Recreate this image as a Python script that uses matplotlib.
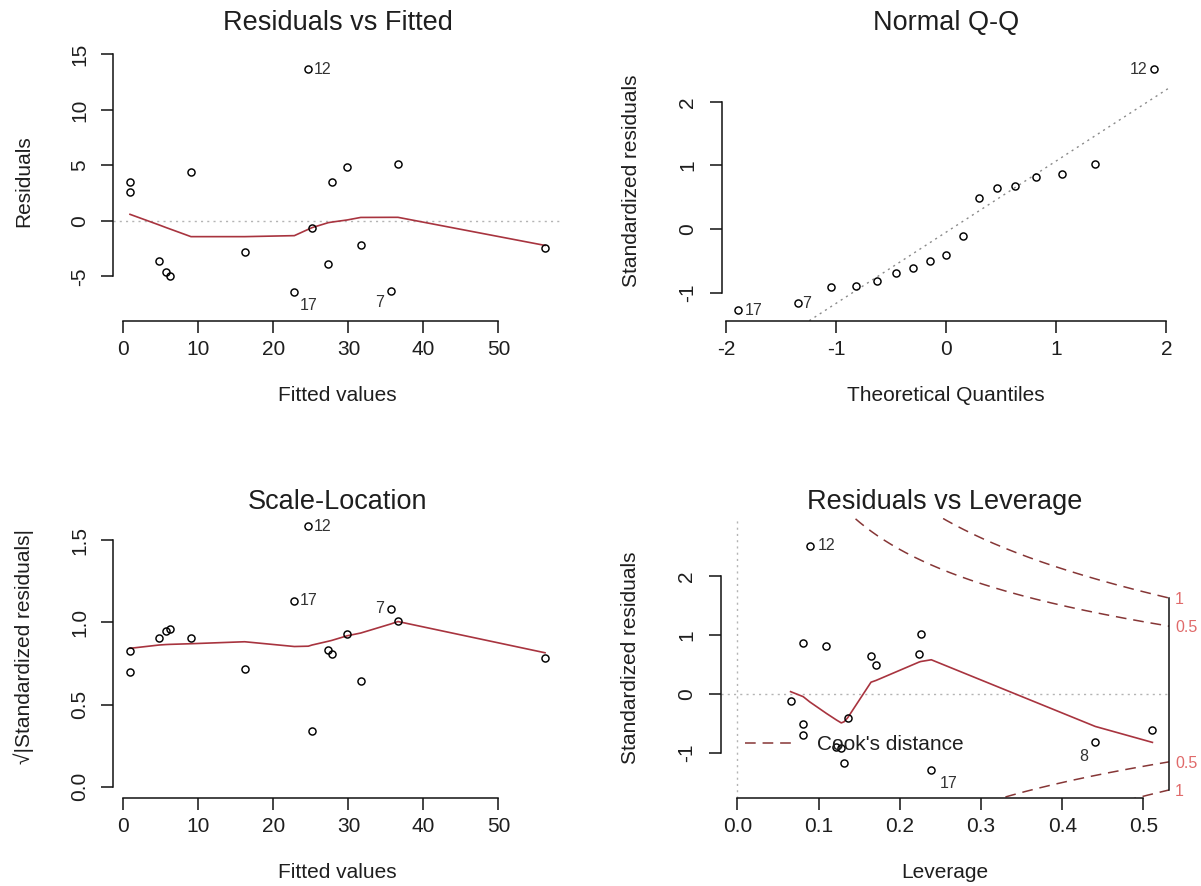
import numpy as np
import matplotlib
matplotlib.use("Agg")
import matplotlib.pyplot as plt
from matplotlib.lines import Line2D

plt.rcParams['font.family'] = ['Liberation Sans', 'DejaVu Sans']
plt.rcParams['axes.unicode_minus'] = False

# ---- regression diagnostics, one entry per observation (ordered by fitted value)
obs_no = [1, 2, 8, 3, 4, 5, 6, 17, 12, 9, 10, 11, 13, 14, 7, 15, 16]
fitted = [0.87, 0.87, 4.73, 5.67, 6.16, 9.0, 16.16, 22.78, 24.64, 25.13,
          27.31, 27.76, 29.8, 31.63, 35.62, 36.6, 56.2]
residuals = [3.49, 2.58, -3.60, -4.62, -4.95, 4.44, -2.79, -6.43, 13.69, -0.66,
             -3.85, 3.49, 4.86, -2.13, -6.28, 5.10, -2.40]
std_resid = [0.68, 0.49, -0.82, -0.895, -0.92, 0.82, -0.51, -1.28, 2.51, -0.115,
             -0.69, 0.65, 0.863, -0.415, -1.17, 1.022, -0.615]
leverage = [0.2236, 0.1708, 0.4407, 0.122, 0.128, 0.1098, 0.0811, 0.2388, 0.0893,
            0.0656, 0.0811, 0.1646, 0.0811, 0.136, 0.1315, 0.2257, 0.511]

# theoretical normal quantiles for 17 points
qq_theoretical = [-1.89, -1.35, -1.05, -0.82, -0.63, -0.46, -0.30, -0.15, 0.0,
                  0.15, 0.30, 0.46, 0.63, 0.82, 1.05, 1.35, 1.89]
qq_line_slope = 1.12
qq_line_intercept = -0.05

# smoothed trend lines
smooth_fit_x = [0.87, 4.73, 5.67, 6.16, 9.0, 16.16, 22.78, 24.64, 25.13, 27.31,
                27.76, 29.8, 31.63, 35.62, 36.6, 56.2]
smooth_resid_y = [0.6, -0.35, -0.59, -0.71, -1.41, -1.41, -1.32, -0.75, -0.60, -0.15,
                  -0.10, 0.09, 0.32, 0.33, 0.33, -2.2]
smooth_scale_y = [0.842, 0.862, 0.865, 0.866, 0.870, 0.882, 0.853, 0.855, 0.862, 0.885,
                  0.89, 0.918, 0.935, 0.99, 1.005, 0.815]
smooth_lev_x = [0.0656, 0.0811, 0.0893, 0.1098, 0.122, 0.128, 0.1315, 0.136, 0.1646,
                0.1708, 0.2236, 0.2257, 0.2388, 0.4407, 0.511]
smooth_lev_y = [0.04, -0.045, -0.135, -0.33, -0.44, -0.49, -0.47, -0.40, 0.20,
                0.23, 0.54, 0.55, 0.58, -0.55, -0.82]

cook_levels = [0.5, 1.0]
n_params = 3

# ---- appearance
W, H = 1201, 886
TXT = '#1e1e1e'
RED_LINE = '#a8343f'
RED_DASH = '#863636'
RED_TEXT = '#e06a6a'
GREY = '#b4b4b4'
FS = 15
FS_TITLE = 19.5
FS_ID = 11.5
PX = 72 / 100  # points per pixel

fig = plt.figure(figsize=(W / 100, H / 100), dpi=100)
fig.patch.set_facecolor('white')


def add_panel(l, t, r, b):
    ax = fig.add_axes([l / W, 1 - b / H, (r - l) / W, (b - t) / H])
    ax.set_facecolor('white')
    return ax, (r - l), (b - t)


def r_pad(lo, hi):
    d = 0.04 * (hi - lo)
    return lo - d, hi + d


def extend(lo, hi, f=0.08):
    d = (hi - lo) * f
    return lo - d, hi + d


def style(ax, w, h, xt, yt, title, xlabel, ylabel, title_off, xtl=None, ytl=None):
    for s in ('top', 'right'):
        ax.spines[s].set_visible(False)
    ax.spines['left'].set_bounds(yt[0], yt[-1])
    ax.spines['bottom'].set_bounds(xt[0], xt[-1])
    for s in ('left', 'bottom'):
        ax.spines[s].set_linewidth(1.1)
        ax.spines[s].set_color('#111111')
    ax.set_xticks(xt)
    ax.set_yticks(yt)
    if xtl is not None:
        ax.set_xticklabels(xtl)
    if ytl is not None:
        ax.set_yticklabels(ytl)
    ax.tick_params(axis='both', direction='out', length=12 * PX, width=1.1,
                   color='#111111', labelsize=FS, labelcolor=TXT)
    ax.tick_params(axis='x', pad=7.5 * PX)
    ax.tick_params(axis='y', pad=12.5 * PX)
    for lab in ax.get_yticklabels():
        lab.set_rotation(90)
        lab.set_va('center')
    ax.set_title(title, fontsize=FS_TITLE, color=TXT, pad=0,
                 y=1 + title_off / h, va='center')
    ax.set_xlabel(xlabel, fontsize=FS, color=TXT)
    ax.xaxis.set_label_coords(0.5, -75 / h)
    ax.xaxis.label.set_va('center')
    ax.set_ylabel(ylabel, fontsize=FS, color=TXT)
    ax.yaxis.set_label_coords(-90 / w, 0.5)
    ax.yaxis.label.set_va('center')


def points(ax, x, y):
    ax.plot(x, y, linestyle='none', marker='o', ms=5.1, mfc='none',
            mec='black', mew=1.05, zorder=3)


def tag(ax, x, y, text, dx, dy):
    ax.annotate(text, (x, y), xytext=(dx * PX, dy * PX), textcoords='offset points',
                ha='center', va='center', fontsize=FS_ID, color='#333333',
                annotation_clip=False, zorder=4)


dotted = dict(color=GREY, lw=1.0, dashes=(1.5, 3.0), zorder=1)

idx = {n: i for i, n in enumerate(obs_no)}
sqrt_abs = np.sqrt(np.abs(np.array(std_resid)))

# ---- Residuals vs Fitted
ax1, w1, h1 = add_panel(113.4, 40.8, 561.6, 320.6)
ax1.set_xlim(*r_pad(min(fitted), max(fitted)))
ax1.set_ylim(*r_pad(*extend(min(residuals), max(residuals))))
ax1.axhline(0, **dotted)
ax1.plot(smooth_fit_x, smooth_resid_y, color=RED_LINE, lw=1.2, zorder=2)
points(ax1, fitted, residuals)
for n, dx, dy in [(12, 14, 0), (17, 14, -13), (7, -11, -12)]:
    i = idx[n]
    tag(ax1, fitted[i], residuals[i], str(n), dx, dy)
style(ax1, w1, h1, [0, 10, 20, 30, 40, 50], [-5, 0, 5, 10, 15],
      'Residuals vs Fitted', 'Fitted values', 'Residuals', 18)

# ---- Normal Q-Q
order = np.argsort(std_resid)
qq_y = np.array(std_resid)[order]
ax2, w2, h2 = add_panel(721.5, 41.0, 1170.8, 320.7)
ax2.set_xlim(*r_pad(min(qq_theoretical), max(qq_theoretical)))
lo, hi = min(std_resid), max(std_resid)
ax2.set_ylim(*r_pad(lo, hi + 0.075 * (hi - lo)))
ax2.axline((0, qq_line_intercept), slope=qq_line_slope, color='#8a8a8a', lw=1.0,
           dashes=(1.5, 3.0), zorder=1)
points(ax2, qq_theoretical, qq_y)
rank = {obs_no[j]: k for k, j in enumerate(order)}
for n, dx, dy in [(17, 15, 0), (7, 9, 0), (12, -16, 0)]:
    k = rank[n]
    tag(ax2, qq_theoretical[k], qq_y[k], str(n), dx, dy)
style(ax2, w2, h2, [-2, -1, 0, 1, 2], [-1, 0, 1, 2],
      'Normal Q-Q', 'Theoretical Quantiles', 'Standardized residuals', 18)

# ---- Scale-Location
ax3, w3, h3 = add_panel(113.4, 495.6, 561.6, 797.9)
ax3.set_xlim(*r_pad(min(fitted), max(fitted)))
ax3.set_ylim(*r_pad(0, sqrt_abs.max() * 1.075))
ax3.plot(smooth_fit_x, smooth_scale_y, color=RED_LINE, lw=1.2, zorder=2)
points(ax3, fitted, sqrt_abs)
for n, dx, dy in [(12, 14, 0), (17, 14, 0), (7, -11, 0)]:
    i = idx[n]
    tag(ax3, fitted[i], sqrt_abs[i], str(n), dx, dy)
style(ax3, w3, h3, [0, 10, 20, 30, 40, 50], [0.0, 0.5, 1.0, 1.5],
      'Scale-Location', 'Fitted values', '\u221a|Standardized residuals|', -6,
      ytl=['0.0', '0.5', '1.0', '1.5'])

# ---- Residuals vs Leverage
ax4, w4, h4 = add_panel(720.7, 517.6, 1169.0, 797.8)
xl4 = r_pad(0, max(leverage))
ax4.set_xlim(*xl4)
ax4.set_ylim(*r_pad(*extend(min(std_resid), max(std_resid))))
ax4.axhline(0, **dotted)
ax4.axvline(0, **dotted)
hh = np.linspace(0.01, xl4[1], 300)
edge_y = []
for lev in cook_levels:
    cy = np.sqrt(lev * n_params * (1 - hh) / hh)
    for sgn in (1, -1):
        ax4.plot(hh, sgn * cy, color=RED_DASH, lw=1.1, dashes=(7, 4.5), zorder=1)
    edge_y.append(np.sqrt(lev * n_params * (1 - xl4[1]) / xl4[1]))
ax4.plot(smooth_lev_x, smooth_lev_y, color=RED_LINE, lw=1.2, zorder=2)
points(ax4, leverage, std_resid)
for n, dx, dy in [(12, 17, 0), (17, 17, -14), (8, -12, -14)]:
    i = idx[n]
    tag(ax4, leverage[i], std_resid[i], str(n), dx, dy)
style(ax4, w4, h4, [0.0, 0.1, 0.2, 0.3, 0.4, 0.5], [-1, 0, 1, 2],
      'Residuals vs Leverage', 'Leverage', 'Standardized residuals', 16,
      xtl=['0.0', '0.1', '0.2', '0.3', '0.4', '0.5'])

# Cook's distance levels on the right-hand axis
axr = ax4.twinx()
axr.set_ylim(ax4.get_ylim())
right_pos = [-edge_y[1], -edge_y[0], edge_y[0], edge_y[1]]
right_lab = ['1', '0.5', '0.5', '1']
axr.set_yticks(right_pos)
axr.set_yticklabels(right_lab)
for s in ('top', 'left', 'bottom'):
    axr.spines[s].set_visible(False)
axr.spines['right'].set_bounds(right_pos[0], right_pos[-1])
axr.spines['right'].set_linewidth(1.1)
axr.spines['right'].set_color('#111111')
axr.tick_params(axis='y', length=0, pad=6 * PX, labelsize=FS_ID, labelcolor=RED_TEXT)

leg = ax4.legend(handles=[Line2D([], [], color=RED_DASH, lw=1.1, dashes=(7, 4.5))],
                 labels=["Cook's distance"], loc='center left',
                 bbox_to_anchor=((745 - 720.7) / w4, (797.8 - 745) / h4),
                 frameon=False, fontsize=FS, handlelength=51.7 / 20.8,
                 handletextpad=0.95, borderpad=0, borderaxespad=0)
for t in leg.get_texts():
    t.set_color(TXT)

fig.savefig('out.png', dpi=100, facecolor='white')
